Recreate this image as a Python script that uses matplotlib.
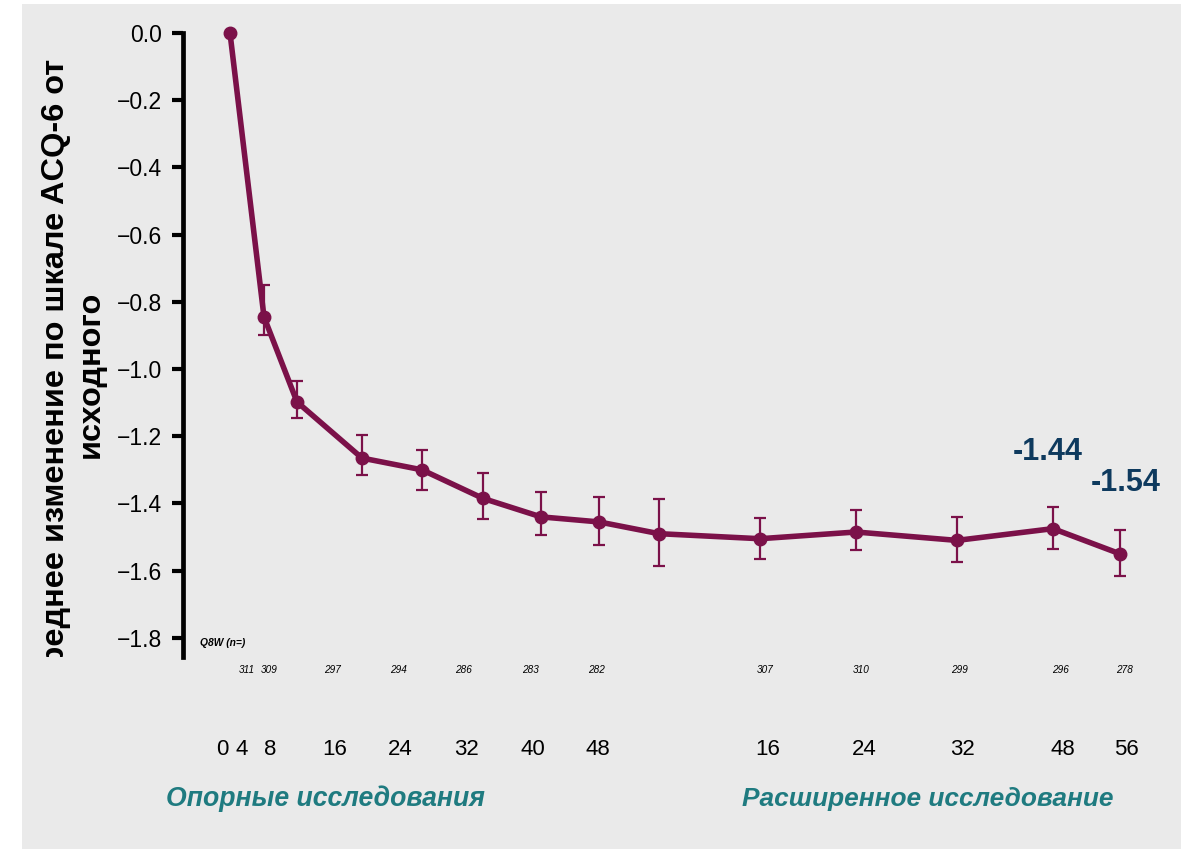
import matplotlib.pyplot as plt
from matplotlib.patches import Rectangle
from matplotlib.transforms import Bbox, TransformedBbox, blended_transform_factory
import numpy as np

plt.rcParams['font.family'] = ['Liberation Sans', 'DejaVu Sans']

# Data
visit_pos = [47, 81, 114, 179, 239, 300, 358, 416, 476, 577, 673, 774, 870, 937]  # plotting slots
mean_change = [0.0, -0.845, -1.098, -1.265, -1.30, -1.385, -1.44, -1.455, -1.49,
               -1.505, -1.485, -1.51, -1.475, -1.55]
ci_low = [0.0, -0.90, -1.145, -1.315, -1.36, -1.445, -1.495, -1.525, -1.587,
          -1.566, -1.54, -1.575, -1.535, -1.615]
ci_high = [0.0, -0.75, -1.035, -1.195, -1.24, -1.31, -1.365, -1.382, -1.388,
           -1.444, -1.42, -1.44, -1.41, -1.48]

week_pos = [39, 59, 87, 152, 217, 283, 350, 415, 585, 681, 779, 880, 943]
week_labels = ['0', '4', '8', '16', '24', '32', '40', '48', '16', '24', '32', '48', '56']

n_pos = [64, 86, 150, 216, 281, 347, 413, 582, 678, 777, 877, 942]
n_values = [311, 309, 297, 294, 286, 283, 282, 307, 310, 299, 296, 278]

callouts = [('-1.44', 865, -1.247), ('-1.54', 943, -1.339)]

line_color = '#7b1149'
bg = '#eaeaea'

W, H = 1181, 849
fig = plt.figure(figsize=(W / 100, H / 100), dpi=100, facecolor='white')
fig.patches.append(Rectangle((22 / W, 0), 1 - 22 / W, 1 - 4 / H, transform=fig.transFigure,
                             facecolor=bg, edgecolor='none', zorder=-10))

ax = fig.add_axes([183 / W, (H - 657) / H, (W - 183) / W, (657 - 33) / H])
ax.set_facecolor('none')
ax.set_xlim(0, W - 183)
ax.set_ylim(-1.857, 0.0)

y = np.array(mean_change)
yerr = np.array([y - np.array(ci_low), np.array(ci_high) - y])
ax.errorbar(visit_pos, y, yerr=yerr, fmt='none', ecolor=line_color, elinewidth=1.6,
            capsize=4.5, capthick=1.6, zorder=2, clip_on=False)
ax.plot(visit_pos, y, color=line_color, lw=4.0, marker='o', ms=9, zorder=3, clip_on=False)

for s in ['top', 'right', 'bottom']:
    ax.spines[s].set_visible(False)
ax.spines['left'].set_linewidth(3.4)

ax.set_yticks(np.arange(0, -1.81, -0.2))
ax.tick_params(axis='y', direction='out', length=8, width=3, labelsize=16.5, pad=7)

ax.set_xticks(week_pos, week_labels)
ax.tick_params(axis='x', length=0, labelsize=16, pad=59)

# sample sizes under the axis
tr = blended_transform_factory(ax.transData, fig.transFigure)
ax.text(17, (H - 643) / H, 'Q8W (n=)', transform=tr, fontsize=7.4, fontstyle='italic',
        fontweight='bold', ha='left', va='center')
for xp, n in zip(n_pos, n_values):
    ax.text(xp, (H - 670) / H, str(n), transform=tr, fontsize=7.2, fontstyle='italic',
            ha='center', va='center')

for txt, xp, yp in callouts:
    ax.text(xp, yp, txt, fontsize=22, fontweight='bold', color='#0e3a5e',
            ha='center', va='center')

fig.text(166 / W, (H - 799) / H, 'Опорные исследования', fontsize=19.2, fontweight='bold',
         fontstyle='italic', color='#1f7b80', ha='left', va='center')
fig.text(742 / W, (H - 799) / H, 'Расширенное исследование', fontsize=18.9, fontweight='bold',
         fontstyle='italic', color='#1f7b80', ha='left', va='center')

ylab = fig.text(73 / W, (H - 374) / H, 'Среднее изменение по шкале ACQ-6 от\nисходного',
                rotation=90, fontsize=23.4, fontweight='bold', ha='center', va='center',
                multialignment='center', linespacing=1.2)
ylab.set_clip_box(TransformedBbox(Bbox([[0, (H - 657) / H], [1, 1]]), fig.transFigure))
ylab.set_clip_on(True)

fig.savefig('out.png', dpi=100, facecolor='white')
